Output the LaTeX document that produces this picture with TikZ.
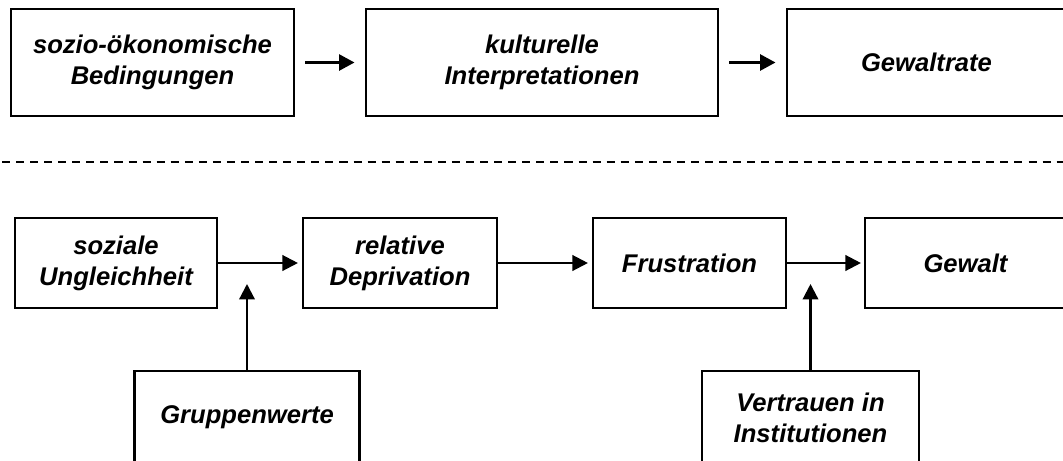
\documentclass[tikz,border=0pt]{standalone}
\usepackage{fontspec}
\setmainfont{Liberation Sans}
\usetikzlibrary{arrows.meta}
\newlength\px
\setlength\px{0.025cm}

\begin{document}
\begin{tikzpicture}[x=1\px, y=-1\px,
            font=\fontsize{18.2}{22}\selectfont\bfseries\itshape,
            box/.style={draw, rectangle, align=center, line width=1.5pt, minimum height=90\px},
            bigbox/.style={box, line width=1.9pt, minimum height=107\px},
            arr/.style={-{Triangle[length=11pt,width=11pt]}, line width=1.6pt},
            bigarr/.style={arr, line width=2.6pt, shorten <=10\px, shorten >=10\px}]
            \useasboundingbox (0,0) rectangle (1063,460);
            \clip (0,0) rectangle (1063,460);

            \node[bigbox, minimum width=283\px] (sozio) at (152.5,62.5) {sozio-ökonomische\\Bedingungen};
            \node[bigbox, minimum width=352\px] (kultur) at (542,62.5) {kulturelle\\Interpretationen};
            \node[bigbox, minimum width=279\px] (rate) at (926.5,62.5) {Gewaltrate};

            \draw[bigarr] (sozio) -- (kultur);
            \draw[bigarr] (kultur) -- (rate);

            \draw[line width=1.5pt, dash pattern=on 5.7pt off 4.3pt] (2,162) -- (1063,162);

            \node[box, minimum width=202\px] (ungleich) at (116,263) {soziale\\Ungleichheit};
            \node[box, minimum width=194\px] (depriv) at (400,263) {relative\\Deprivation};
            \node[box, minimum width=193\px] (frust) at (689.5,263) {Frustration};
            \node[box, minimum width=201\px] (gewalt) at (965.5,263) {Gewalt};
            \node[box, minimum width=225\px, minimum height=93\px] (gruppen) at (247,417.5) {Gruppenwerte};
            \node[box, minimum width=217\px, minimum height=93\px] (vertrauen) at (810.5,417.5) {Vertrauen in\\Institutionen};

            \coordinate (m1) at (247,284);
            \coordinate (m2) at (810.5,284);

            \draw[arr, shorten >=4\px] (ungleich) -- (depriv);
            \draw[arr, shorten >=4\px] (depriv) -- (frust);
            \draw[arr, shorten >=3\px] (frust) -- (gewalt);
            \draw[arr] (gruppen) -- (m1);
            \draw[arr] (vertrauen) -- (m2);
        \end{tikzpicture}
\end{document}
